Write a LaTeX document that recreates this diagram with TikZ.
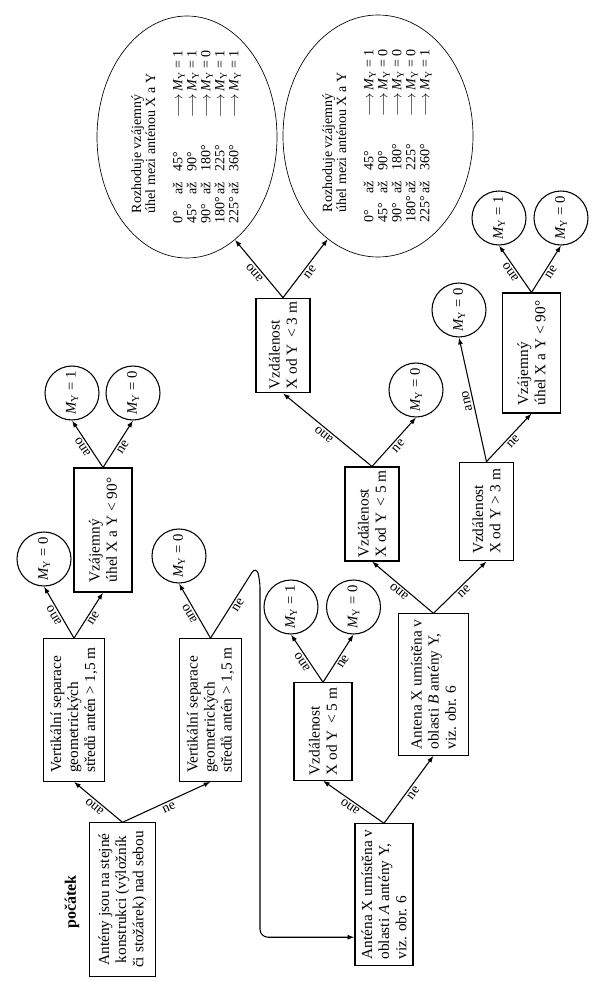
\documentclass[tikz,border=0pt]{standalone}
\usepackage{fontspec}
\setmainfont{Liberation Serif}
\usetikzlibrary{arrows.meta,shapes.geometric,calc}
\newcommand{\My}{\textit{M}\textsubscript{Y}}

\begin{document}
\begin{tikzpicture}[x=0.75pt, y=-0.75pt,
  box/.style={draw, line width=0.8pt, rotate=90, align=left, inner sep=1.5pt, font=\fontsize{11.5}{12.8}\selectfont},
  result/.style={draw, circle, line width=0.8pt, rotate=90, minimum size=40.5pt, inner sep=0pt, font=\fontsize{11}{12.6}\selectfont},
  verdict/.style={draw, ellipse, line width=0.5pt, rotate=90, align=left, inner sep=-3pt, minimum width=181.5pt, font=\fontsize{10.5}{10.5}\selectfont},
  arrow/.style={-{Latex[length=1.8mm,width=1.3mm]}, line width=0.8pt},
  yes/.style={sloped, allow upside down, above, inner sep=1.5pt, font=\fontsize{10.5}{12}\selectfont},
  no/.style={sloped, below, inner sep=1.5pt, font=\fontsize{10.5}{12}\selectfont}
]
\useasboundingbox (0,0) rectangle (599,981);
\node[box, align=center, minimum width=115pt, minimum height=50pt] (start) at (122.5,899.5) {Antény jsou na stejné\\ konstrukci (výložník\\ či stožárek) nad sebou};
\node[rotate=90, font=\bfseries\fontsize{12}{14}\selectfont] (title) at (72,902) {počátek};
\node[box, minimum width=107pt, minimum height=46pt] (v1) at (74,710) {Vertikální separace\\ geometrických\\ středů antén > 1,5 m};
\node[box, minimum width=107pt, minimum height=46pt] (v2) at (210.5,710) {Vertikální separace\\ geometrických\\ středů antén > 1,5 m};
\node[box, minimum width=93pt, minimum height=43.5pt] (v3) at (103,530) {Vzájemný\\ úhel X a Y < 90°};
\node[box, minimum width=106pt, minimum height=43.5pt] (a) at (384,894.5) {Anténa X umístěna v\\ oblasti \textit{A} antény Y,\\ viz. obr. 6};
\node[box, minimum width=106pt, minimum height=52pt] (b) at (433.5,684.5) {Antena X umístěna v\\ oblasti \textit{B} antény Y,\\ viz. obr. 6};
\node[box, minimum width=73pt, minimum height=43.5pt] (d1) at (323,731.5) {Vzdálenost\\ X od Y\,\ < 5 m};
\node[box, minimum width=70.5pt, minimum height=40.5pt] (d2) at (372,514) {Vzdálenost\\ X od Y\, < 5 m};
\node[box, minimum width=74pt, minimum height=41pt] (d3) at (486.5,511.5) {Vzdálenost\\ X od Y > 3 m};
\node[box, minimum width=71pt, minimum height=40.5pt] (d4) at (283,345.5) {Vzdálenost\\ X od Y\, < 3 m};
\node[box, minimum width=90pt, minimum height=43pt] (d5) at (531.5,353) {Vzájemný\\ úhel X a Y < 90°};
\node[result] (m1) at (44,559) {\My{} = 0};
\node[result] (m2) at (179,556) {\My{} = 0};
\node[result] (m3) at (72,393) {\My{} = 1};
\node[result] (m4) at (133,393) {\My{} = 0};
\node[result] (m5) at (291,607) {\My{} = 1};
\node[result] (m6) at (353.5,607) {\My{} = 0};
\node[result] (m7) at (416,390) {\My{} = 0};
\node[result] (m8) at (459,310) {\My{} = 0};
\node[result] (m9) at (499,218) {\My{} = 1};
\node[result] (m10) at (561,218) {\My{} = 0};
\node[verdict, minimum height=135pt] (e1) at (187,137) {\hspace*{8pt}Rozhoduje vzájemný\\ \hspace*{8pt}úhel mezi anténou X a Y\\[12pt]
  \begin{tabular}{@{}p{22pt}@{}p{17pt}@{}p{41pt}@{}p{19pt}@{}l@{}}
  0° & až & 45° & $\longrightarrow$ & \My{} = 1\\
  45° & až & 90° & $\longrightarrow$ & \My{} = 1\\
  90° & až & 180° & $\longrightarrow$ & \My{} = 0\\
  180° & až & 225° & $\longrightarrow$ & \My{} = 1\\
  225° & až & 360° & $\longrightarrow$ & \My{} = 1
  \end{tabular}};
\node[verdict, minimum height=142.5pt] (e2) at (378,136) {\hspace*{8pt}Rozhoduje vzájemný\\ \hspace*{8pt}úhel mezi anténou X a Y\\[12pt]
  \begin{tabular}{@{}p{22pt}@{}p{17pt}@{}p{41pt}@{}p{19pt}@{}l@{}}
  0° & až & 45° & $\longrightarrow$ & \My{} = 1\\
  45° & až & 90° & $\longrightarrow$ & \My{} = 0\\
  90° & až & 180° & $\longrightarrow$ & \My{} = 0\\
  180° & až & 225° & $\longrightarrow$ & \My{} = 0\\
  225° & až & 360° & $\longrightarrow$ & \My{} = 1
  \end{tabular}};
\coordinate (entry) at ($(a.north)!0.6!(a.north west)$);
\draw[arrow] (start.east) -- node[yes]{ano} (v1.west);
\draw[arrow] (start.east) -- node[no]{ne} (v2.west);
\draw[arrow] (v1.east) -- node[yes]{ano} (m1.west);
\draw[arrow] (v1.east) -- node[no]{ne} (v3.west);
\draw[arrow] (v2.east) -- node[yes]{ano} (m2.west);
\draw[arrow, rounded corners=6pt] (v2.east) -- node[no]{ne} (256,566) -- (260,580) |- (entry);
\draw[arrow] (v3.east) -- node[yes]{ano} (m3.west);
\draw[arrow] (v3.east) -- node[no]{ne} (m4.west);
\draw[arrow] (a.east) -- node[yes]{ano} (d1.west);
\draw[arrow] (a.east) -- node[no]{ne} (b.west);
\draw[arrow] (d1.east) -- node[yes]{ano} (m5.west);
\draw[arrow] (d1.east) -- node[no]{ne} (m6.west);
\draw[arrow] (b.east) -- node[yes]{ano} (d2.west);
\draw[arrow] (b.east) -- node[no]{ne} (d3.west);
\draw[arrow] (d2.east) -- node[yes]{ano} (d4.west);
\draw[arrow] (d2.east) -- node[no]{ne} (m7.west);
\draw[arrow] (d3.east) -- node[yes]{ano} (m8.west);
\draw[arrow] (d3.east) -- node[no]{ne} (d5.west);
\draw[arrow] (d4.east) -- node[yes]{ano} (e1.205);
\draw[arrow] (d4.east) -- node[no]{ne} (e2.154);
\draw[arrow] (d5.east) -- node[yes]{ano} (m9.west);
\draw[arrow] (d5.east) -- node[no]{ne} (m10.west);
\end{tikzpicture}
\end{document}
